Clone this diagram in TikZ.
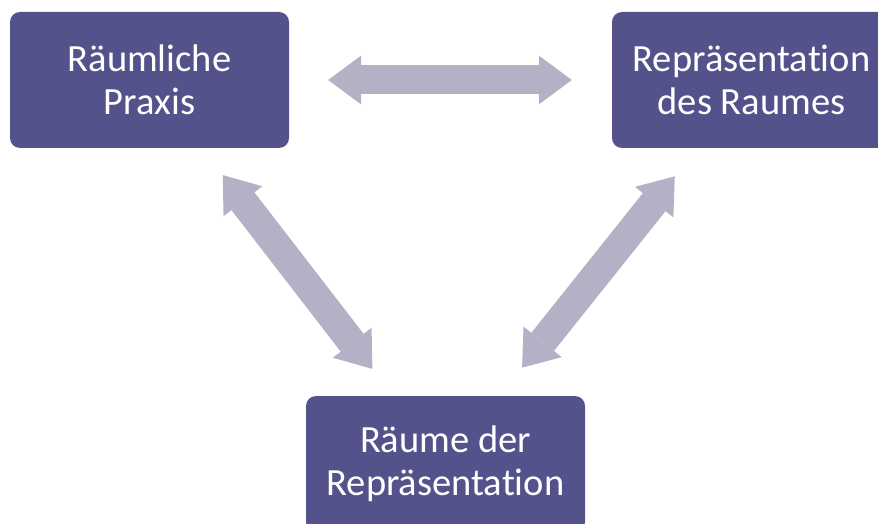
\documentclass[tikz,border=0pt]{standalone}
\usepackage{fontspec}
\setmainfont{Carlito}[Ligatures=NoCommon]
\usepackage{xcolor}
\usetikzlibrary{arrows.meta}
\definecolor{boxviolet}{RGB}{84,82,138}
\definecolor{arrowgray}{RGB}{178,177,197}

\begin{document}
\begin{tikzpicture}[block/.style = {rectangle, fill=boxviolet, text=white, align=center, rounded corners=10pt, minimum width=279pt, minimum height=136pt, inner sep=0pt, font=\fontsize{38.5}{43}\selectfont}, link/.style = {draw=arrowgray, line width=29pt, arrows={Triangle[width=49pt,length=33pt,line width=0pt]-Triangle[width=49pt,length=33pt,line width=0pt]}}]
        \useasboundingbox (0,0) rectangle (878pt,-524pt);
        \draw (149.5pt, -80pt) node[block] (praxis) {Räumliche\\Praxis};
        \draw (751.5pt, -80pt) node[block] (raum) {Repräsentation\\des Raumes};
        \draw (445.5pt, -464pt) node[block] (repr) {Räume der\\Repräsentation};

        \draw[link, shorten <=39pt, shorten >=40pt] (praxis) -- (raum);
        \draw[link, shorten <=34pt, shorten >=34pt] (praxis) -- (repr);
        \draw[link, shorten <=36pt, shorten >=36pt] (raum) -- (repr);
      \end{tikzpicture}
\end{document}
